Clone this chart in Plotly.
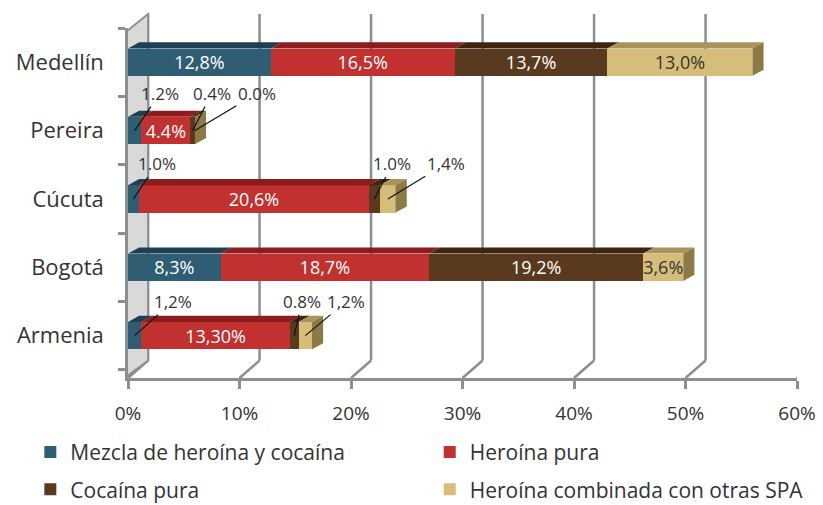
import plotly.graph_objects as go

cities = ["Armenia", "Bogotá", "Cúcuta", "Pereira", "Medellín"]
series_names = ["Mezcla de heroína y cocaína", "Heroína pura", "Cocaína pura",
                "Heroína combinada con otras SPA"]
mezcla = [1.2, 8.3, 1.0, 1.2, 12.8]
heroina = [13.3, 18.7, 20.6, 4.4, 16.5]
cocaina = [0.8, 19.2, 1.0, 0.4, 13.7]
combinada = [1.2, 3.6, 1.4, 0.0, 13.0]

mezcla_lbl = ["1,2%", "8,3%", "1.0%", "1.2%", "12,8%"]
heroina_lbl = ["13,30%", "18,7%", "20,6%", "4.4%", "16,5%"]
cocaina_lbl = ["0.8%", "19,2%", "1.0%", "0.4%", "13,7%"]
combinada_lbl = ["1,2%", "3,6%", "1,4%", "0.0%", "13,0%"]

x_ticks = [0, 10, 20, 30, 40, 50, 60]
x_ticktext = ["0%", "10%", "20%", "30%", "40%", "50%", "60%"]

colors = ["#2F5E74", "#C0312F", "#5A3A1E", "#D6BE7A"]
top_colors = ["#1E4052", "#8E1C1C", "#3E2510", "#A8935A"]
end_color = "#8C7A46"
text_colors = ["white", "white", "white", "#333333"]

values = [mezcla, heroina, cocaina, combinada]
labels = [mezcla_lbl, heroina_lbl, cocaina_lbl, combinada_lbl]

FONT = "Open Sans"
SMALL = 2.0
BAR_W = 0.40      # front face height (category units)
DEPTH_X = 1.0     # 3D depth offset in x units
DEPTH_Y = 0.09    # 3D depth offset in category units

legend_of = ["legend", "legend2", "legend", "legend2"]

fig = go.Figure()
for s, (vals, lbls) in enumerate(zip(values, labels)):
    txt = [l if v >= SMALL else "" for v, l in zip(vals, lbls)]
    fig.add_trace(go.Bar(
        y=cities, x=vals, orientation="h", name=series_names[s],
        marker=dict(color=colors[s], line=dict(width=0)),
        width=BAR_W, legend=legend_of[s], legendgroup=str(s),
        text=txt, texttemplate="%{text}", textposition="inside",
        insidetextanchor="middle", textangle=0, constraintext="none",
        textfont=dict(family=FONT, size=18, color=text_colors[s]),
        hoverinfo="skip",
    ))

shapes = []
# pseudo-3D back gridlines
for t in x_ticks:
    shapes.append(dict(type="line", xref="x", yref="paper", x0=t, x1=t + 1.8,
                       y0=0, y1=0.05, line=dict(color="#8a8f93", width=2.5), layer="below"))
    shapes.append(dict(type="line", xref="x", yref="paper", x0=t + 1.8, x1=t + 1.8,
                       y0=0.05, y1=1.04, line=dict(color="#8a8f93", width=2.5), layer="below"))
# left wall
shapes.append(dict(type="path", xref="x", yref="paper",
                   path="M -0.3,0 L -0.3,0.986 L 1.8,1.04 L 1.8,0.05 Z",
                   fillcolor="#d9d9d9", line=dict(color="#8a8f93", width=2), layer="below"))

# top faces and end faces of the 3D bars (computed from the data through the axes)
for ci in range(len(cities)):
    top = ci + BAR_W / 2
    start = 0.0
    for s in range(len(values)):
        v = values[s][ci]
        end = start + v
        if v > 0:
            shapes.append(dict(
                type="path", xref="x", yref="y", layer="above",
                path=f"M {start},{top} L {start + DEPTH_X},{top + DEPTH_Y} "
                     f"L {end + DEPTH_X},{top + DEPTH_Y} L {end},{top} Z",
                fillcolor=top_colors[s], line=dict(width=0)))
        start = end
    shapes.append(dict(
        type="path", xref="x", yref="y", layer="above",
        path=f"M {start},{top} L {start + DEPTH_X},{top + DEPTH_Y} "
             f"L {start + DEPTH_X},{ci - BAR_W / 2 + DEPTH_Y} L {start},{ci - BAR_W / 2} Z",
        fillcolor=end_color, line=dict(width=0)))

# outside labels with leader lines (pixel offsets of text from the segment)
offsets = {
    (3, 0): (25, -37), (3, 2): (19, -37), (3, 3): (62, -37),
    (2, 0): (23, -35), (2, 2): (18, -35), (2, 3): (58, -35),
    (0, 0): (38, -34), (0, 2): (8, -34), (0, 3): (41, -34),
}
for (ci, s), (ax, ay) in offsets.items():
    start = sum(values[k][ci] for k in range(s))
    mid = start + values[s][ci] / 2
    fig.add_annotation(
        x=mid, y=ci, xref="x", yref="y", text=labels[s][ci],
        showarrow=True, arrowhead=0, arrowwidth=1.2, arrowcolor="#111111",
        ax=ax, ay=ay, standoff=0,
        font=dict(family=FONT, size=17, color="#333333"),
    )

legend_common = dict(orientation="v", yanchor="top", xanchor="left", y=-0.154,
                     traceorder="grouped", tracegroupgap=7,
                     font=dict(family=FONT, size=21, color="#333333"),
                     bgcolor="rgba(0,0,0,0)")

fig.update_layout(
    width=823, height=505,
    margin=dict(l=128, r=26, t=28, b=127, autoexpand=False),
    paper_bgcolor="white", plot_bgcolor="white",
    barmode="stack",
    font=dict(family=FONT, color="#333333"),
    shapes=shapes,
    showlegend=True,
    legend=dict(x=-0.146, **legend_common),
    legend2=dict(x=0.451, **legend_common),
    xaxis=dict(range=[0, 60], tickvals=x_ticks, ticktext=x_ticktext, automargin=False,
               showgrid=False, zeroline=False, showline=True, linecolor="#8a8f93",
               linewidth=2.5, ticks="outside", ticklen=8, tickwidth=2.5,
               tickcolor="#8a8f93", tickfont=dict(family=FONT, size=19, color="#333333"),
               ticklabelstandoff=8, ticklabeloverflow="allow", fixedrange=True),
    yaxis=dict(type="category", categoryorder="array", categoryarray=cities,
               range=[-0.62, 4.5], showgrid=False, zeroline=False, showline=True,
               automargin=False,
               linecolor="#8a8f93", linewidth=2.5, ticks="outside", tickson="boundaries",
               ticklen=7, tickwidth=2.5, tickcolor="#8a8f93", ticklabelstandoff=17,
               tickfont=dict(family=FONT, size=22, color="#333333"), fixedrange=True),
)

fig.write_html("out.html", config={"displayModeBar": False},
               post_script="document.body.style.margin='0';")
